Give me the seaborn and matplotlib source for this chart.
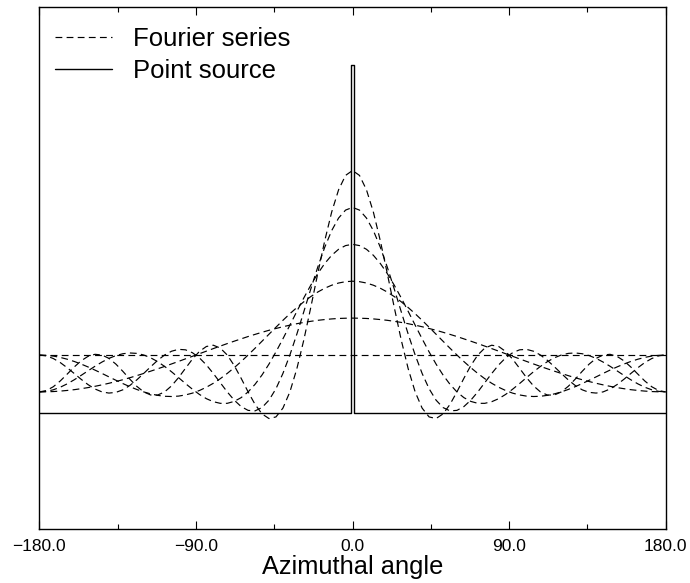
import matplotlib
matplotlib.use("Agg")
import matplotlib.pyplot as plt
import seaborn as sns

# ---------------- data ----------------
angle = list(range(-180, 181, 4))  # azimuthal angle grid (degrees)

fourier_n0 = [1.0] * len(angle)

fourier_n1 = [0.367, 0.369, 0.373, 0.381, 0.392, 0.405, 0.422, 0.441, 0.463, 0.488,
              0.515, 0.545, 0.576, 0.610, 0.646, 0.684, 0.723, 0.763, 0.804, 0.847,
              0.890, 0.934, 0.978, 1.022, 1.066, 1.110, 1.153, 1.196, 1.237, 1.277,
              1.317, 1.354, 1.390, 1.424, 1.455, 1.485, 1.512, 1.537, 1.559, 1.578,
              1.595, 1.608, 1.619, 1.627, 1.631, 1.633,
              1.631, 1.627, 1.619, 1.608, 1.595, 1.578, 1.559, 1.537, 1.512, 1.485,
              1.455, 1.424, 1.390, 1.354, 1.317, 1.277, 1.237, 1.196, 1.153, 1.110,
              1.066, 1.022, 0.978, 0.934, 0.890, 0.847, 0.804, 0.763, 0.723, 0.684,
              0.646, 0.610, 0.576, 0.545, 0.515, 0.488, 0.463, 0.441, 0.422, 0.405,
              0.392, 0.381, 0.373, 0.369, 0.367]

fourier_n2 = [1.000, 0.995, 0.982, 0.959, 0.928, 0.890, 0.845, 0.795, 0.741, 0.684,
              0.625, 0.567, 0.510, 0.457, 0.409, 0.367, 0.333, 0.308, 0.292, 0.288,
              0.295, 0.315, 0.346, 0.391, 0.447, 0.515, 0.594, 0.684, 0.782, 0.888,
              1.000, 1.117, 1.237, 1.357, 1.477, 1.595, 1.708, 1.814, 1.913, 2.002,
              2.080, 2.145, 2.197, 2.235, 2.258, 2.266,
              2.258, 2.235, 2.197, 2.145, 2.080, 2.002, 1.913, 1.814, 1.708, 1.595,
              1.477, 1.357, 1.237, 1.117, 1.000, 0.888, 0.782, 0.684, 0.594, 0.515,
              0.447, 0.391, 0.346, 0.315, 0.295, 0.288, 0.292, 0.308, 0.333, 0.367,
              0.409, 0.457, 0.510, 0.567, 0.625, 0.684, 0.741, 0.795, 0.845, 0.890,
              0.928, 0.959, 0.982, 0.995, 1.000]

fourier_n3 = [0.367, 0.376, 0.403, 0.447, 0.505, 0.574, 0.650, 0.729, 0.807, 0.879,
              0.942, 0.990, 1.022, 1.035, 1.028, 1.000, 0.952, 0.886, 0.804, 0.712,
              0.612, 0.510, 0.413, 0.324, 0.251, 0.199, 0.171, 0.171, 0.204, 0.269,
              0.367, 0.498, 0.658, 0.845, 1.054, 1.278, 1.512, 1.748, 1.979, 2.197,
              2.396, 2.569, 2.710, 2.814, 2.877, 2.899,
              2.877, 2.814, 2.710, 2.569, 2.396, 2.197, 1.979, 1.748, 1.512, 1.278,
              1.054, 0.845, 0.658, 0.498, 0.367, 0.269, 0.204, 0.171, 0.171, 0.199,
              0.251, 0.324, 0.413, 0.510, 0.612, 0.712, 0.804, 0.886, 0.952, 1.000,
              1.028, 1.035, 1.022, 0.990, 0.942, 0.879, 0.807, 0.729, 0.650, 0.574,
              0.505, 0.447, 0.403, 0.376, 0.367]

fourier_n4 = [1.000, 0.985, 0.940, 0.871, 0.782, 0.684, 0.584, 0.492, 0.417, 0.367,
              0.347, 0.359, 0.403, 0.477, 0.573, 0.684, 0.799, 0.908, 1.000, 1.065,
              1.097, 1.089, 1.039, 0.951, 0.830, 0.683, 0.525, 0.367, 0.226, 0.115,
              0.050, 0.042, 0.099, 0.226, 0.422, 0.684, 1.000, 1.358, 1.742, 2.131,
              2.506, 2.846, 3.133, 3.350, 3.486, 3.532,
              3.486, 3.350, 3.133, 2.846, 2.506, 2.131, 1.742, 1.358, 1.000, 0.684,
              0.422, 0.226, 0.099, 0.042, 0.050, 0.115, 0.226, 0.367, 0.525, 0.683,
              0.830, 0.951, 1.039, 1.089, 1.097, 1.065, 1.000, 0.908, 0.799, 0.684,
              0.573, 0.477, 0.403, 0.359, 0.347, 0.367, 0.417, 0.492, 0.584, 0.684,
              0.782, 0.871, 0.940, 0.985, 1.000]

fourier_n5 = [0.367, 0.390, 0.455, 0.554, 0.672, 0.793, 0.900, 0.977, 1.012, 1.000,
              0.942, 0.844, 0.720, 0.586, 0.463, 0.367, 0.314, 0.313, 0.367, 0.471,
              0.612, 0.772, 0.930, 1.061, 1.146, 1.168, 1.119, 1.000, 0.820, 0.600,
              0.367, 0.152, -0.011, -0.090, -0.062, 0.089, 0.367, 0.764, 1.257, 1.815,
              2.396, 2.956, 3.450, 3.835, 4.081, 4.165,
              4.081, 3.835, 3.450, 2.956, 2.396, 1.815, 1.257, 0.764, 0.367, 0.089,
              -0.062, -0.090, -0.011, 0.152, 0.367, 0.600, 0.820, 1.000, 1.119, 1.168,
              1.146, 1.061, 0.930, 0.772, 0.612, 0.471, 0.367, 0.313, 0.314, 0.367,
              0.463, 0.586, 0.720, 0.844, 0.942, 1.000, 1.012, 0.977, 0.900, 0.793,
              0.672, 0.554, 0.455, 0.390, 0.367]

source_angle = [-180, -1, -1, 1, 1, 180]
source_value = [0.0, 0.0, 5.97, 5.97, 0.0, 0.0]

xtick_values = [-180, -90, 0, 90, 180]
xtick_labels = ["\u2212180.0", "\u221290.0", "0.0", "90.0", "180.0"]
xminor_values = [-135, -45, 45, 135]
xlabel = "Azimuthal angle"
legend_labels = ["Fourier series", "Point source"]

# ---------------- style ----------------
sns.set_theme(style="ticks")
plt.rcParams["font.family"] = ["Liberation Sans", "DejaVu Sans"]
plt.rcParams["lines.scale_dashes"] = False
plt.rcParams["text.color"] = "black"
plt.rcParams["axes.labelcolor"] = "black"
plt.rcParams["xtick.color"] = "black"

fig = plt.figure(figsize=(6.9, 5.83), dpi=100)
ax = fig.add_axes([0.0570, 0.0921, 0.9078, 0.8959])

dash = (0, (4.9, 3.1))
series = [fourier_n0, fourier_n1, fourier_n2, fourier_n3, fourier_n4, fourier_n5]
fourier_lines = []
for s in series:
    sns.lineplot(x=angle, y=s, ax=ax, color="black", linewidth=0.85,
                 linestyle=dash, estimator=None, sort=False)
    fourier_lines.append(ax.lines[-1])

sns.lineplot(x=source_angle, y=source_value, ax=ax, color="black",
             linewidth=1.0, estimator=None, sort=False)
source_line = ax.lines[-1]

ax.set_xlim(-180, 180)
ax.set_ylim(-1.99, 6.97)
ax.set_xticks(xtick_values)
ax.set_xticklabels(xtick_labels)
ax.set_xticks(xminor_values, minor=True)
ax.set_yticks([])
ax.tick_params(axis="x", which="both", direction="in", top=True, bottom=True,
               colors="black", labelsize=12.5, pad=7)
ax.tick_params(axis="x", which="major", length=5.5, width=0.8)
ax.tick_params(axis="x", which="minor", length=3.5, width=0.8)
ax.set_xlabel(xlabel, fontsize=18.3, labelpad=1, color="black")
ax.set_ylabel("")
for sp in ax.spines.values():
    sp.set_visible(True)
    sp.set_color("black")
    sp.set_linewidth(1.0)

leg = ax.legend([fourier_lines[0], source_line], legend_labels, loc="upper left",
                bbox_to_anchor=(0.025, 0.962), frameon=False, fontsize=18.5,
                handlelength=2.2, handletextpad=0.85, labelspacing=0.3,
                borderpad=0, borderaxespad=0)
for t in leg.get_texts():
    t.set_color("black")

fig.savefig("out.png", dpi=100)
